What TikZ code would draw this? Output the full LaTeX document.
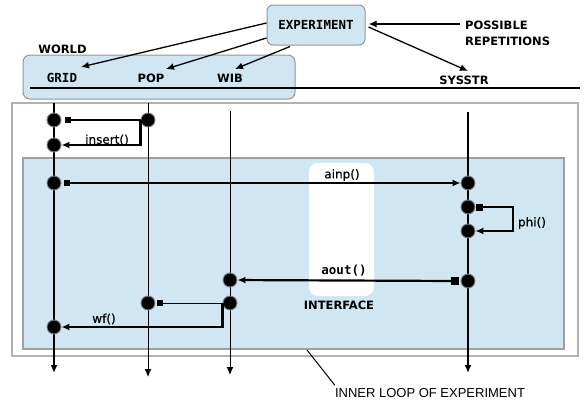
\documentclass[tikz,border=0pt]{standalone}
\usepackage{fontspec}
\setmainfont{DejaVu Sans}
\newfontfamily\monof{DejaVu Sans Mono}
\newfontfamily\arialf{Liberation Sans}
\newfontfamily\fnf{DejaVu Sans}[FakeBold=0.5]
\usetikzlibrary{arrows.meta,calc}
\definecolor{lblue}{RGB}{208,230,243}
\definecolor{bgray}{RGB}{150,150,150}
\begin{document}
\begin{tikzpicture}[x=1pt,y=-1pt,
  dot/.style={circle, fill=black, draw=gray, line width=0.9pt, minimum size=14pt, inner sep=0pt},
  sq/.style={rectangle, fill=black, minimum size=6pt, inner sep=0pt},
  bigsq/.style={sq, minimum size=8pt},
  thk/.style={line width=2.2pt},
  thn/.style={line width=1pt},
  mid/.style={line width=1.4pt},
  arr/.style={-{Latex[length=8pt,width=7pt]}},
  lab/.style={font=\fontsize{11.5}{13}\selectfont\bfseries, inner sep=0pt},
  mono/.style={font=\monof\fontsize{12.5}{14}\selectfont\bfseries, inner sep=0pt},
  fn/.style={font=\fnf\fontsize{12}{14}\selectfont, inner sep=0pt},
  panel/.style={fill=lblue, draw=bgray, line width=1pt}
]
\useasboundingbox (0,0) rectangle (587,407);

% boxes
\draw[panel, rounded corners=7pt] (23,55) rectangle (295,99);
\draw[fill=white, draw=gray!60, line width=1.5pt] (12,103) rectangle (578,356);
\draw[fill=lblue, draw=gray!75, line width=1.5pt] (23,158) rectangle (564,349);
\node[fill=white, rounded corners=9pt, minimum width=65pt, minimum height=133pt, inner sep=0pt] (iface) at (341.5,229.5) {};

% top line
\coordinate (hl1) at (30,88);
\coordinate (hl2) at (580,88);
\draw[thk] (hl1) -- (hl2);

% labels
\node[lab] (world) at (62.5,49) {WORLD};
\node[mono] (grid) at (62,78) {GRID};
\node[lab] (pop) at (151,78) {POP};
\node[lab] (wib) at (230,78) {WIB};
\node[lab] (sys) at (464,80) {SYSSTR};
\node[panel, rounded corners=6pt, minimum width=98pt, minimum height=40pt, inner sep=0pt,
      font=\monof\fontsize{12.5}{14}\selectfont\bfseries] (exp) at (316,25) {EXPERIMENT};
\node[lab, anchor=west, align=left, font=\fontsize{11.5}{16}\selectfont\bfseries] (rep) at (465,33) {POSSIBLE\\REPETITIONS};

% arrows from EXPERIMENT
\draw[arr, line width=1.3pt] ($(exp.west)+(0,-2)$) -- ($(grid.center)+(19,-11)$);
\draw[arr, line width=1.3pt] ($(exp.west)+(0,13)$) -- ($(pop.center)+(15,-9)$);
\draw[arr, line width=1.3pt] ($(exp.south)+(-26,1)$) -- ($(wib.center)+(5,-9)$);
\draw[arr, line width=1.3pt] ($(exp.east)+(3,2)$) -- ($(sys.center)+(4,-9)$);
\draw[arr, line width=2pt] ($(rep.west)+(-5,-9)$) -- ($(exp.east)+(3,-1)$);

% vertical lifelines
\coordinate (gt) at (54,103);  \coordinate (gb) at (54,373);
\coordinate (pt) at (148,103); \coordinate (pb) at (148,377);
\coordinate (wt) at (230,111); \coordinate (wb) at (230,375);
\coordinate (st) at (468,112); \coordinate (sb) at (468,373);
\draw[thk, arr] (gt) -- (gb);
\draw[thn, arr] (pt) -- (pb);
\draw[thn, arr] (wt) -- (wb);
\draw[thk, arr] (st) -- (sb);

% interface labels
\node[fn] (ainp) at (342,175) {ainp()};
\node[mono] (aout) at (344,271) {aout()};
\node[lab] (ifl) at (339,305) {INTERFACE};

% dots
\node[dot] (g1) at (54,120) {};
\node[dot] (g2) at (54,145) {};
\node[dot] (g3) at (54,183) {};
\node[dot] (g4) at (54,327) {};
\node[dot] (p1) at (148,120) {};
\node[dot] (p2) at (148,303) {};
\node[dot] (w1) at (230,280) {};
\node[dot] (w2) at (230,303) {};
\node[dot] (s1) at (468,183) {};
\node[dot] (s2) at (468,207) {};
\node[dot] (s3) at (468,231) {};
\node[dot] (s4) at (468,281) {};

% squares
\node[sq] (q1) at (68,120) {};
\node[sq] (q3) at (67,183) {};
\node[sq] (qp2) at (160,303) {};
\node[sq, minimum size=7pt] (qs2) at (479,207) {};
\node[bigsq] (qs4) at (455,281) {};

% connectors
\draw[thk] (q1) -- (p1);
\draw[thk, arr] (p1.west) |- (g2);
\node[fn] (ins) at (107,140) {insert()};

\draw[thk, arr] (q3) -- (s1);

\coordinate (phic) at (513,207);
\draw[mid, arr] (qs2) -- (phic) |- (s3);
\node[fn] (phi) at (532,223) {phi()};

\draw[thk, arr] (qs4) -- (w1);

\draw[thn] (qp2) -- (w2);
\draw[thk, arr] (w2.west) |- (g4);
\node[fn] (wf) at (104,319) {wf()};

% inner loop label
\node[font=\arialf\fontsize{13}{15}\selectfont, inner sep=0pt] (inner) at (430,393) {INNER LOOP OF EXPERIMENT};
\coordinate (ilc) at (307,350);
\draw[thn] (ilc) -- ($(inner.north west)+(0,-3)$);
\end{tikzpicture}
\end{document}
